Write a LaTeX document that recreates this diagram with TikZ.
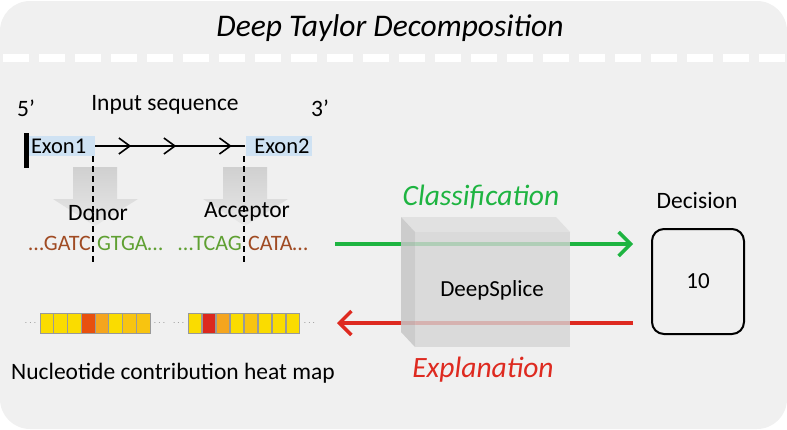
\documentclass[tikz,border=0pt]{standalone}
\usepackage{fontspec}
\setmainfont{Carlito}
\usepackage{tikz}
\usetikzlibrary{arrows.meta, positioning, decorations.markings, calc}
\definecolor{bggrey}{RGB}{240, 240, 240}
\definecolor{exonblue}{RGB}{207, 226, 243}
\definecolor{seqbrown}{RGB}{160, 75, 35}
\definecolor{seqgreen}{RGB}{95, 160, 50}
\definecolor{clsgreen}{RGB}{30, 180, 65}
\definecolor{expred}{RGB}{222, 42, 32}
\definecolor{arrtop}{RGB}{208, 208, 208}
\definecolor{arrbot}{RGB}{232, 232, 232}
\definecolor{hyel}{RGB}{250, 220, 0}
\definecolor{hyor}{RGB}{248, 196, 16}
\definecolor{horn}{RGB}{245, 165, 30}
\definecolor{hror}{RGB}{232, 80, 14}
\definecolor{hred}{RGB}{220, 40, 30}

\begin{document}
\begin{tikzpicture}[
        x=1pt, y=-1pt,
        txt/.style={inner sep=0pt, font=\fontsize{23.5}{26}\selectfont},
        seq/.style={inner sep=0pt, font=\fontsize{22}{24}\selectfont},
        exon/.style={fill=exonblue, minimum width=66pt, minimum height=20pt, inner sep=2pt, font=\fontsize{22.5}{24}\selectfont},
        cell/.style={draw=gray!80, line width=1pt, minimum width=13.75pt, minimum height=20pt, inner sep=0pt},
        dots/.style={inner sep=0pt, text=gray!90},
        cut/.style={line width=1.5pt, dash pattern=on 6pt off 4pt},
        flow/.style={line width=3.5pt, -{Straight Barb[length=12pt, width=24pt]}},
        chevron/.style={decoration={markings,
            mark=at position 0.24 with {\arrow{Straight Barb[length=11pt, width=16pt, line width=1.6pt]}},
            mark=at position 0.54 with {\arrow{Straight Barb[length=11pt, width=16pt, line width=1.6pt]}},
            mark=at position 0.91 with {\arrow{Straight Barb[length=11pt, width=16pt, line width=1.6pt]}}},
            postaction={decorate}}
    ]
        \useasboundingbox (0,0) rectangle (787,429);
        % Panel
        \fill[bggrey, rounded corners=30pt] (0,1) rectangle (787,429);
        \draw[white, line width=8pt, dash pattern=on 26pt off 10pt] (3,58) -- (787,58);
        \node[inner sep=0pt, font=\fontsize{31.5}{34}\selectfont\itshape] (title) at (390,28) {Deep Taylor Decomposition};

        % Input sequence
        \node[txt] (five) at (26,108) {5’};
        \node[txt] (three) at (320,108) {3’};
        \node[txt] (inseq) at (165,105) {Input sequence};
        \draw[line width=5pt] (26,133) -- (26,168);
        \node[exon, text width=62pt, align=left] (exonA) at (62,146) {Exon1};
        \node[exon, text width=62pt, align=right] (exonB) at (278.5,146) {Exon2};
        \draw[line width=1.5pt, chevron] (exonA.east) -- (exonB.west);

        % Splice site arrows
        \shade[top color=arrtop, bottom color=arrbot]
            (73,167) -- (117,167) -- (117,199) -- (138,199) -- (95,226) -- (53,199) -- (73,199) -- cycle;
        \shade[top color=arrtop, bottom color=arrbot]
            (223,167) -- (267,167) -- (267,199) -- (288,199) -- (245,226) -- (203,199) -- (223,199) -- cycle;
        \coordinate (cutA) at (93,265);
        \coordinate (cutB) at (244,265);
        \draw[cut] (cutA |- exonA.south) -- (cutA);
        \draw[cut] (cutB |- exonB.south) -- (cutB);
        \node[txt] (donor) at (98,213) {Donor};
        \node[txt] (acceptor) at (247,212) {Acceptor};

        % Sequences
        \node[seq, text=seqbrown, anchor=east] (gatc) at (91,243) {…GATC};
        \node[seq, text=seqgreen, anchor=west] (gtga) at (97,243) {GTGA…};
        \node[seq, text=seqgreen, anchor=east] (tcag) at (242,243) {…TCAG};
        \node[seq, text=seqbrown, anchor=west] (cata) at (248,243) {CATA…};

        % Heat map
        \foreach \c [count=\i] in {hyel,hyel,hyel,hror,horn,hyel,hyor,hyor}
            \node[cell, fill=\c] (ha\i) at ({40+13.75*(\i-0.5)},323) {};
        \foreach \c [count=\i] in {hyel,hred,horn,hyel,hyor,hyel,hyel,hyel}
            \node[cell, fill=\c] (hb\i) at ({188+14*(\i-0.5)},323) {};
        \node[dots, left=3pt of ha1] {$\cdots$};
        \node[dots, right=3pt of ha8] {$\cdots$};
        \node[dots, left=3pt of hb1] {$\cdots$};
        \node[dots, right=3pt of hb8] {$\cdots$};
        \node[txt, anchor=west] (heat) at (11,373) {Nucleotide contribution heat map};

        % Flows
        \coordinate (clsIn) at (335,244);
        \coordinate (expOut) at (337,323);
        \node[draw, line width=2pt, rounded corners=12pt, minimum width=92pt, minimum height=105pt,
              font=\fontsize{23}{25}\selectfont] (dec) at (698,281.5) {10};
        \node[txt] (declbl) at (697,200) {Decision};
        \draw[flow, clsgreen] (clsIn) -- ([xshift=-18pt]clsIn -| dec.west);
        \draw[flow, expred] ([xshift=-18pt]expOut -| dec.west) -- (expOut);

        % Model block
        \fill[gray!25, opacity=0.85] (415,232) -- (401,217) -- (556,217) -- (570,232) -- cycle;
        \fill[gray!45, opacity=0.85] (415,232) -- (401,217) -- (401,332) -- (415,347) -- cycle;
        \fill[gray!33, opacity=0.8] (415,232) rectangle (570,347);
        \node[inner sep=0pt, font=\fontsize{23}{25}\selectfont] (model) at (492,290) {DeepSplice};

        % Labels
        \node[inner sep=0pt, text=clsgreen, font=\fontsize{29.5}{32}\selectfont\itshape] (cls) at (481,197) {Classification};
        \node[inner sep=0pt, text=expred, font=\fontsize{29.5}{32}\selectfont\itshape] (exp) at (483,370) {Explanation};
    \end{tikzpicture}
\end{document}
